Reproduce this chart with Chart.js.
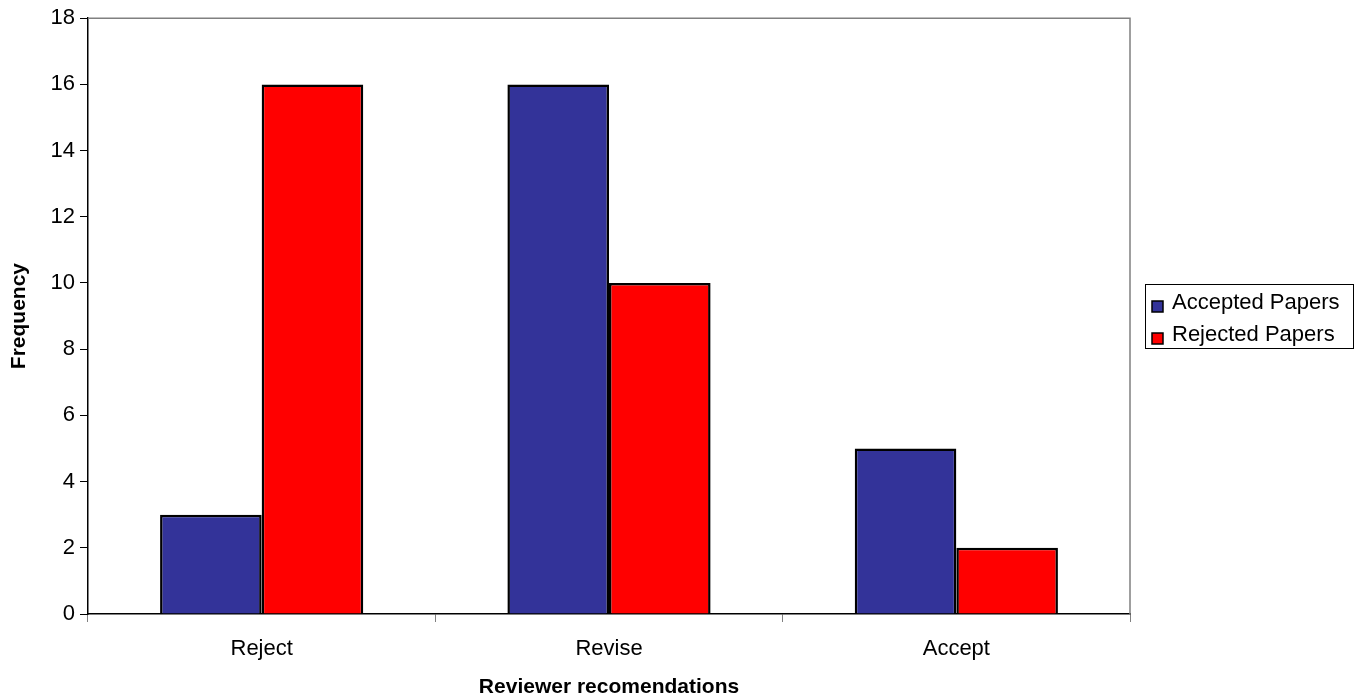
<!DOCTYPE html>
<html>
<head>
<meta charset="utf-8">
<script src="https://cdn.jsdelivr.net/npm/chart.js@4/dist/chart.umd.min.js"></script>
<style>
  html, body { margin: 0; padding: 0; background: #fff; }
  #wrap { width: 1365px; height: 700px; }
</style>
</head>
<body>
<div id="wrap"><canvas id="c" width="1365" height="700"></canvas></div>
<script>
// Reviewer recommendation counts for accepted vs rejected papers
const categories = ['Reject', 'Revise', 'Accept'];
const acceptedPapers = [3, 16, 5];
const rejectedPapers = [16, 10, 2];
const seriesNames = ['Accepted Papers', 'Rejected Papers'];
const yTicks = [0, 2, 4, 6, 8, 10, 12, 14, 16, 18];

const FONT = '"Liberation Sans", Arial, sans-serif';
const BLUE = '#333399';
const RED = '#FF0000';

// Grey frame on the top and right edges of the plot area
const plotFrame = {
  id: 'plotFrame',
  afterDraw(chart) {
    const { ctx, chartArea: a } = chart;
    ctx.save();
    ctx.strokeStyle = '#808080';
    ctx.lineWidth = 1.5;
    ctx.beginPath();
    ctx.moveTo(a.left, a.top);
    ctx.lineTo(a.right, a.top);
    ctx.lineTo(a.right, a.bottom);
    ctx.stroke();
    ctx.restore();
  }
};

// Boxed legend to the right of the plot
const boxLegend = {
  id: 'boxLegend',
  afterDraw(chart) {
    const { ctx } = chart;
    const x = 1145, y = 284, w = 208, h = 64;
    ctx.save();
    ctx.fillStyle = '#fff';
    ctx.fillRect(x, y, w, h);
    ctx.strokeStyle = '#000';
    ctx.lineWidth = 1;
    ctx.strokeRect(x + 0.5, y + 0.5, w, h);
    ctx.font = '22px ' + FONT;
    ctx.textBaseline = 'middle';
    ctx.textAlign = 'left';
    chart.data.datasets.forEach((ds, i) => {
      const cy = y + 22 + i * 32;
      ctx.fillStyle = ds.backgroundColor;
      ctx.fillRect(x + 7, cy - 5, 11, 11);
      ctx.strokeStyle = '#000';
      ctx.lineWidth = 1.5;
      ctx.strokeRect(x + 7, cy - 5, 11, 11);
      ctx.fillStyle = '#000';
      ctx.fillText(ds.label, x + 27, cy - 3);
    });
    ctx.restore();
  }
};

new Chart(document.getElementById('c'), {
  type: 'bar',
  data: {
    labels: categories,
    datasets: [
      { label: seriesNames[0], data: acceptedPapers, backgroundColor: BLUE, borderColor: '#000', borderWidth: 2.5 },
      { label: seriesNames[1], data: rejectedPapers, backgroundColor: RED, borderColor: '#000', borderWidth: 2.5 }
    ]
  },
  options: {
    responsive: false,
    animation: false,
    events: [],
    layout: { padding: { top: 17, right: 235, left: 0, bottom: 0 } },
    datasets: { bar: { categoryPercentage: 0.585, barPercentage: 1.0 } },
    plugins: { legend: { display: false }, tooltip: { enabled: false } },
    scales: {
      x: {
        grid: { display: true, drawOnChartArea: false, drawTicks: true, tickLength: 8, color: '#808080', offset: true },
        border: { display: true, color: '#000', width: 1.5 },
        ticks: { color: '#000', font: { family: FONT, size: 22 }, padding: 14 },
        title: { display: true, text: 'Reviewer recomendations', color: '#000', font: { family: FONT, size: 21, weight: 'bold' }, padding: { top: 10, bottom: 0 } },
        afterFit(scale) { scale.height = 86; }
      },
      y: {
        min: 0,
        max: 18,
        afterBuildTicks(scale) { scale.ticks = yTicks.map(v => ({ value: v })); },
        grid: { display: true, drawOnChartArea: false, drawTicks: true, tickLength: 8, color: '#000' },
        border: { display: true, color: '#000', width: 1.5 },
        ticks: { color: '#000', font: { family: FONT, size: 22 }, padding: 5 },
        title: { display: true, text: 'Frequency', color: '#000', font: { family: FONT, size: 21, weight: 'bold' }, padding: { top: 7, bottom: 10 } },
        afterFit(scale) { scale.width = 88; }
      }
    }
  },
  plugins: [plotFrame, boxLegend]
});
</script>
</body>
</html>
